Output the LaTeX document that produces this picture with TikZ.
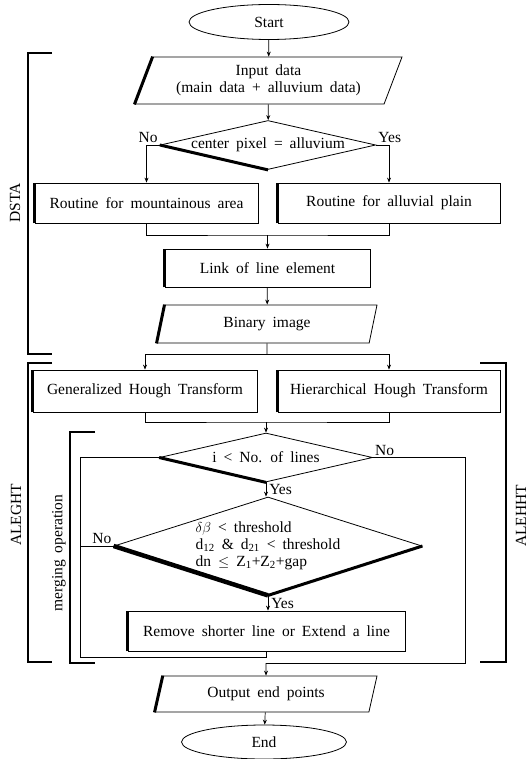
\documentclass[tikz,border=0pt]{standalone}
\usepackage{fontspec}
\setmainfont{Liberation Serif}[WordSpace=1.8]
\usetikzlibrary{shapes.geometric, arrows.meta, positioning, calc}

\begin{document}
\begin{tikzpicture}[
    x=1pt, y=-1pt,
    font=\fontsize{15.5}{17}\selectfont,
    box/.style={rectangle, draw, line width=0.8pt, inner sep=0pt},
    term/.style={ellipse, draw, line width=0.8pt, inner sep=0pt},
    io/.style={trapezium, trapezium left angle=60, trapezium right angle=120, trapezium stretches body=true, draw, line width=0.8pt, inner sep=0pt},
    test/.style={diamond, draw, line width=0.8pt, inner sep=0pt},
    heavy/.style={line width=3pt},
    line/.style={line width=0.7pt},
    arrow/.style={line, -{Stealth[length=5pt, width=4pt]}},
    brace/.style={line width=2pt},
    tag/.style={rotate=90}
]
\useasboundingbox (0,0) rectangle (529,759);

% Flow nodes
\node[term, minimum width=160pt, minimum height=35pt] (start) at (269,22) {Start};
\node[io, minimum width=267pt, minimum height=47pt, align=center] (input) at (268.5,80.5) {Input data\\(main data + alluvium data)};
\node[test, minimum width=215pt, minimum height=49pt, shape aspect=4.4] (alluv) at (268,145) {center pixel = alluvium};
\node[box, minimum width=223pt, minimum height=40pt] (mount) at (146.5,203) {Routine for mountainous area};
\node[box, minimum width=222pt, minimum height=40pt] (plain) at (389,203) {Routine for alluvial plain};
\node[box, minimum width=205pt, minimum height=38pt] (link) at (267.5,268) {Link of line element};
\node[io, minimum width=220pt, minimum height=38pt] (binary) at (267,324) {Binary image};
\node[box, minimum width=224pt, minimum height=42pt] (ght) at (145,391) {Generalized Hough Transform};
\node[box, minimum width=222pt, minimum height=42pt] (hht) at (389,391) {Hierarchical Hough Transform};
\node[test, minimum width=213pt, minimum height=49pt, shape aspect=4.3] (count) at (266,457.5) {i < No. of lines};
\node[test, minimum width=308pt, minimum height=98pt, shape aspect=3.1, align=left] (cond) at (268,546) {$\delta\beta$ < threshold\\d\textsubscript{12} \& d\textsubscript{21} < threshold\\dn $\leq$ Z\textsubscript{1}+Z\textsubscript{2}+gap};
\node[box, minimum width=277pt, minimum height=40pt] (merge) at (266.5,631) {Remove shorter line or Extend a line};
\node[io, minimum width=222pt, minimum height=36pt] (output) at (266,694) {Output end points};
\node[term, minimum width=165pt, minimum height=34pt] (end) at (264,742) {End};

% Heavy edges
\foreach \n in {mount,plain,link,ght,hht,merge}
    \draw[heavy] (\n.south west) -- (\n.north west);
\foreach \n in {input,binary,output}
    \draw[heavy] (\n.bottom left corner) -- (\n.top left corner);
\foreach \n in {alluv,count}
    \draw[heavy] (\n.west) -- (\n.south);
\draw[line width=4.5pt] (cond.west) -- (cond.south);
\draw[line width=3pt] (cond.south) -- (cond.east);

% Junctions
\coordinate (j1) at (267.5,235);
\coordinate (j2) at (267,354);
\coordinate (j3) at (266,422);
\coordinate (r1) at (465,663);
\coordinate (j5) at (266,663);
\coordinate (l1) at (80,657);

% Connections
\draw[arrow] (start) -- (input);
\draw[arrow] (input) -- (alluv);
\draw[arrow] (alluv.west) -| (mount.north) node[pos=0, above left, inner sep=2pt] {No};
\draw[arrow] (alluv.east) -| (plain.north) node[pos=0, above right, inner sep=2pt] {Yes};
\draw[line] (mount.south) |- (j1) -| (plain.south);
\draw[arrow] (j1) -- (link.north);
\draw[arrow] (link) -- (binary);
\draw[line] (binary.south) -- (j2);
\draw[arrow] (j2) -| (ght.north);
\draw[arrow] (j2) -| (hht.north);
\draw[line] (ght.south) |- (j3) -| (hht.south);
\draw[arrow] (j3) -- (count.north);
\draw[arrow] (count.south) -- (count.south |- cond.north) node[midway, right, inner sep=3pt] {Yes};
\draw[arrow] (cond.south) -- (cond.south |- merge.north) node[midway, right, inner sep=3pt] {Yes};
\draw[line] (count.east) -| (r1) -- (j5);
\node[above right, inner sep=2pt] (no2) at (count.east) {No};
\draw[arrow] (j5) -- (output.north);
\draw[line] (merge.south) |- (l1) |- (count.west);
\draw[line] (cond.west) -- (cond.west -| l1);
\node[above left, inner sep=2pt] (no3) at (cond.west) {No};
\draw[arrow] (output) -- (end);

% Brackets
\draw[brace] (52,53) -- (28,53) -- (28,354) -- (52,354);
\draw[brace] (52,363) -- (28,363) -- (28,662) -- (52,662);
\draw[brace] (480,363) -- (506,363) -- (506,662) -- (480,662);
\draw[brace] (95,432) -- (70,432) -- (70,663) -- (95,663);
\node[tag] (dsta) at (15,203) {DSTA};
\node[tag] (aleght) at (16,515) {ALEGHT};
\node[tag] (alehht) at (521,516) {ALEHHT};
\node[tag] (mergeop) at (59,553) {merging operation};
\end{tikzpicture}
\end{document}
